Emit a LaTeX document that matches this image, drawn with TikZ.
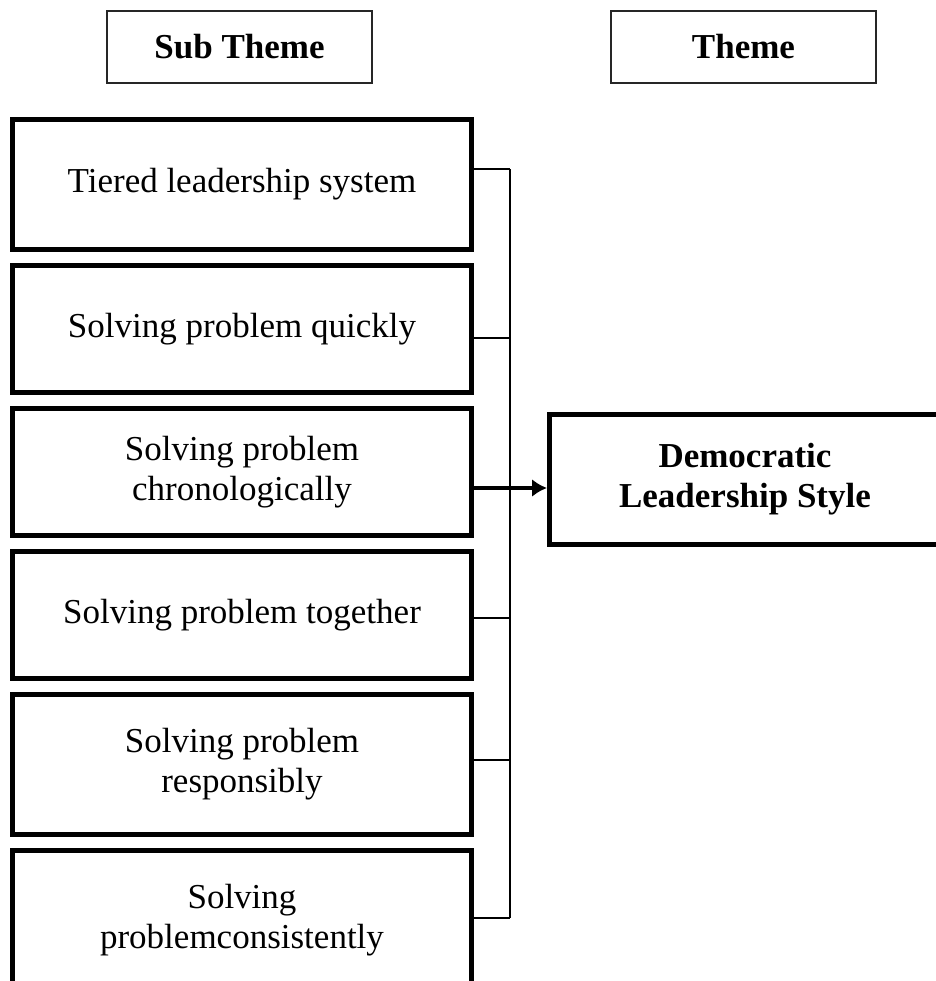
\documentclass[tikz,border=0pt]{standalone}
\usepackage{fontspec}
\setmainfont{Liberation Serif}
\usetikzlibrary{arrows.meta, positioning}
\tikzstyle{every node}=[font=\fontsize{17.5}{20}\selectfont]
\tikzstyle{head}=[draw=black!85,rectangle,line width=1pt,
  minimum width=132.5pt,minimum height=36pt,
  font=\fontsize{17.5}{20}\selectfont\bfseries]
\tikzstyle{subblock}=[draw,rectangle,line width=2.5pt,
  minimum width=229.5pt,minimum height=63.5pt,align=center]
\tikzstyle{themeblock}=[draw,rectangle,line width=2.5pt,
  minimum width=195.5pt,minimum height=65pt,align=center,
  font=\fontsize{17.5}{20}\selectfont\bfseries]
\tikzstyle{link}=[line width=1pt]

\begin{document}
\begin{tikzpicture}[x=0.5pt,y=-0.5pt,>={Latex[length=7.5pt,width=9pt]}]
  \useasboundingbox (0,0) rectangle (936,981);
  % column headers
  \node[head] (subhead) at (239.5,47) {Sub Theme};
  \node[head] (themehead) at (743.5,47) {Theme};
  % sub themes
  \node[subblock, minimum height=65pt] (sub1) at (242,184.5) {Tiered leadership system};
  \node[subblock, below=5.5pt of sub1] (sub2) {Solving problem quickly};
  \node[subblock, below=5.5pt of sub2] (sub3) {Solving problem\\chronologically};
  \node[subblock, below=5.5pt of sub3] (sub4) {Solving problem together};
  \node[subblock, minimum height=70pt, below=5.5pt of sub4] (sub5) {Solving problem\\responsibly};
  \node[subblock, minimum height=70pt, below=5.5pt of sub5] (sub6) {Solving\\problemconsistently};
  % theme
  \node[themeblock] (theme) at (745,479) {Democratic\\Leadership Style};
  % where the links leave the boxes
  \coordinate[yshift=7.75pt] (j1) at (sub1.east);
  \coordinate[yshift=-4.5pt] (j2) at (sub2.east);
  \coordinate[yshift=-8pt] (j3) at (sub3.east);
  \coordinate[yshift=-1.5pt] (j4) at (sub4.east);
  \coordinate[yshift=2.25pt] (j5) at (sub5.east);
  \coordinate[yshift=1.5pt] (j6) at (sub6.east);
  \coordinate (bus) at (510,0);
  \foreach \i in {1,2,4,5,6}
    \draw[link] (j\i) -- (j\i -| bus);
  \draw[link] (j1 -| bus) -- (j6 -| bus);
  \draw[->,line width=1.6pt] (j3) -- (j3 -| theme.west);
\end{tikzpicture}
\end{document}
